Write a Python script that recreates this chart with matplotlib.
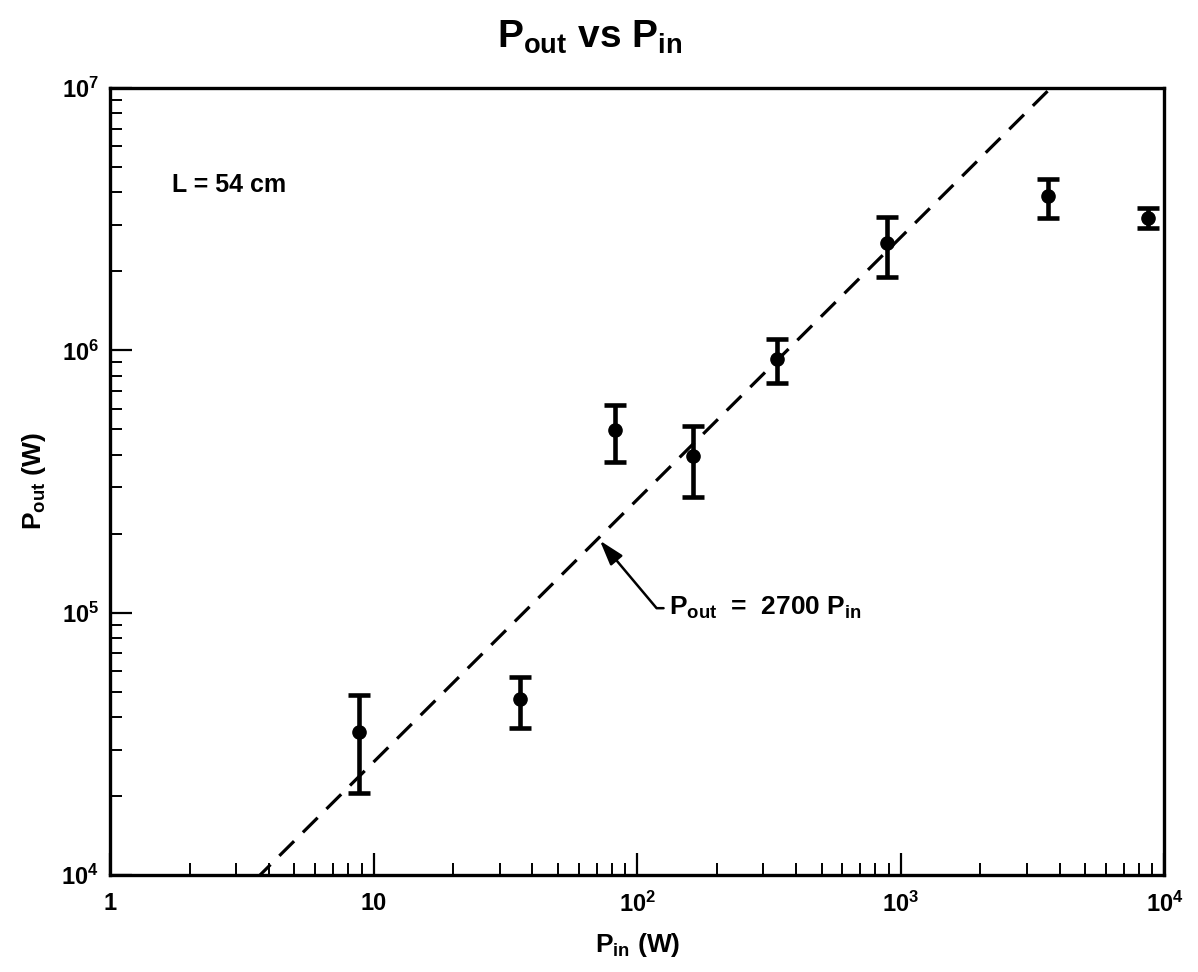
import matplotlib
matplotlib.use("Agg")
import matplotlib.pyplot as plt
import numpy as np

plt.rcParams['font.family'] = ['Liberation Sans', 'DejaVu Sans']
plt.rcParams['font.weight'] = 'bold'
plt.rcParams['mathtext.fontset'] = 'custom'
plt.rcParams['mathtext.rm'] = 'Liberation Sans:bold'
plt.rcParams['mathtext.it'] = 'Liberation Sans:bold'
plt.rcParams['mathtext.bf'] = 'Liberation Sans:bold'

# Data
p_in = [8.8, 36, 82, 163, 340, 885, 3620, 8690]
p_out = [3.5e4, 4.7e4, 4.99e5, 3.94e5, 9.3e5, 2.56e6, 3.87e6, 3.19e6]
err_hi = [4.87e4, 5.7e4, 6.17e5, 5.13e5, 1.10e6, 3.22e6, 4.5e6, 3.48e6]
err_lo = [2.05e4, 3.64e4, 3.74e5, 2.77e5, 7.48e5, 1.91e6, 3.19e6, 2.93e6]

gain = 2700
fit_x = [1, 1e4]

x_ticks = [1, 10, 100, 1000, 10000]
x_labels = ['1', '10', r'$10^2$', r'$10^3$', r'$10^4$']
y_ticks = [1e4, 1e5, 1e6, 1e7]
y_labels = [r'$10^4$', r'$10^5$', r'$10^6$', r'$10^7$']

fig = plt.figure(figsize=(11.98, 9.72), dpi=100)
ax = fig.add_axes([0.092, 0.0998, 0.880, 0.8097])
ax.set_xscale('log')
ax.set_yscale('log')
ax.set_xlim(1, 1e4)
ax.set_ylim(1e4, 1e7)

p_in_a = np.array(p_in)
p_out_a = np.array(p_out)
yerr = [p_out_a - np.array(err_lo), np.array(err_hi) - p_out_a]
ax.errorbar(p_in_a, p_out_a, yerr=yerr, fmt='o', color='black', ms=9.5,
            elinewidth=3.3, capsize=8, capthick=3.3, zorder=3)

fx = np.array(fit_x)
ax.plot(fx, gain * fx, color='black', lw=2.3, dashes=(6.5, 3.9), zorder=2)

ax.set_xticks(x_ticks)
ax.set_xticklabels(x_labels)
ax.set_yticks(y_ticks)
ax.set_yticklabels(y_labels)
ax.tick_params(which='major', direction='in', length=16, width=1.6,
               labelsize=17, pad=8)
ax.tick_params(axis='x', which='major', pad=12)
ax.tick_params(which='minor', direction='in', length=8.5, width=1.4)
ax.tick_params(axis='both', which='both', top=False, right=False)
for s in ax.spines.values():
    s.set_linewidth(2.4)

ax.set_xlabel(r'$\mathrm{P_{in}}$ (W)', fontsize=19, fontweight='bold', labelpad=10)
ax.set_ylabel(r'$\mathrm{P_{out}}$ (W)', fontsize=19, fontweight='bold', labelpad=10)

ax.text(0.059, 0.877, 'L = 54 cm', transform=ax.transAxes, fontsize=18,
        fontweight='bold', ha='left', va='center')

ax.annotate(r'$\mathrm{P_{out}}$  =  2700 $\mathrm{P_{in}}$', xy=(71, 2700 * 71),
            xytext=(132, 1.04e5), fontsize=19, fontweight='bold',
            ha='left', va='center',
            arrowprops=dict(arrowstyle='-|>,head_length=0.8,head_width=0.25',
                            color='black', lw=1.8,
                            connectionstyle='angle,angleA=0,angleB=-50,rad=0',
                            shrinkA=2, shrinkB=2))

fig.text(0.492, 0.962, r'$\mathrm{P_{out}}$ vs $\mathrm{P_{in}}$', fontsize=28,
         fontweight='bold', ha='center', va='center')

fig.savefig('out.png', dpi=100, facecolor='white')
